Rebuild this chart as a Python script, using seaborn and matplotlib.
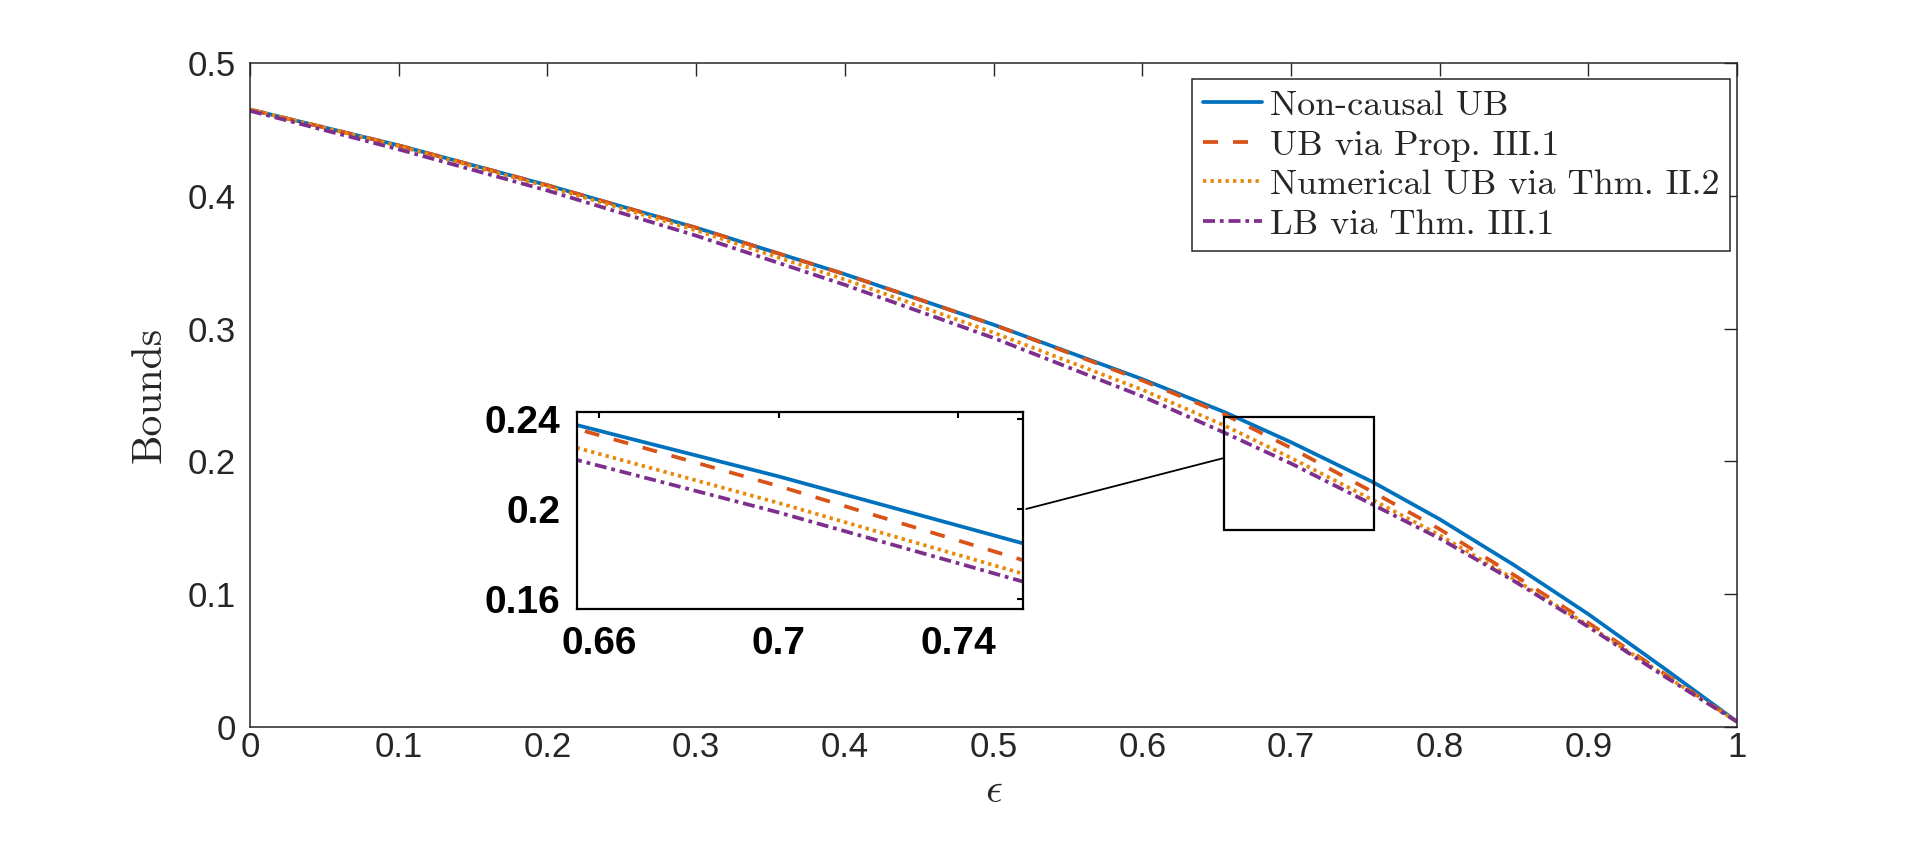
import matplotlib
matplotlib.use("Agg")
import pandas as pd
import seaborn as sns
import matplotlib.pyplot as plt
from matplotlib.patches import Rectangle

# values
eps = [0, 0.1, 0.2, 0.3, 0.4, 0.5, 0.6, 0.655, 0.7, 0.755, 0.8, 0.85, 0.9, 0.95, 1.0]
non_causal_ub = [0.465, 0.438, 0.408, 0.376, 0.341, 0.303, 0.262, 0.2373, 0.2145, 0.1845,
                 0.1565, 0.122, 0.085, 0.045, 0.004]
ub_prop = [0.465, 0.438, 0.408, 0.376, 0.341, 0.303, 0.261, 0.2356, 0.2102, 0.177,
           0.149, 0.1145, 0.0785, 0.041, 0.004]
num_ub_thm = [0.465, 0.4375, 0.407, 0.374, 0.337, 0.297, 0.254, 0.2272, 0.2027, 0.171,
              0.1445, 0.1115, 0.0765, 0.040, 0.004]
lb_thm = [0.464, 0.435, 0.404, 0.370, 0.333, 0.293, 0.249, 0.2218, 0.1985, 0.1675,
          0.142, 0.110, 0.0755, 0.039, 0.004]

names = ["Non-causal UB", "UB via Prop. III.1", "Numerical UB via Thm. II.2", "LB via Thm. III.1"]
colors = ["#0072BD", "#D95319", "#E8890C", "#7E2F8E"]
dash_styles = ["", (4.0, 4.0), (0.9, 1.1), (3.2, 1.3, 1.0, 1.3)]

x_ticks = [0, 0.1, 0.2, 0.3, 0.4, 0.5, 0.6, 0.7, 0.8, 0.9, 1]
x_tick_labels = ["0", "0.1", "0.2", "0.3", "0.4", "0.5", "0.6", "0.7", "0.8", "0.9", "1"]
y_ticks = [0, 0.1, 0.2, 0.3, 0.4, 0.5]
y_tick_labels = ["0", "0.1", "0.2", "0.3", "0.4", "0.5"]
in_x_ticks = [0.66, 0.7, 0.74]
in_x_tick_labels = ["0.66", "0.7", "0.74"]
in_y_ticks = [0.16, 0.2, 0.24]
in_y_tick_labels = ["0.16", "0.2", "0.24"]

df = pd.concat([
    pd.DataFrame({"eps": eps, "bound": vals, "series": name})
    for name, vals in zip(names, [non_causal_ub, ub_prop, num_ub_thm, lb_thm])
])

sns.set_theme(style="white")
plt.rcParams["font.family"] = ["Liberation Sans", "DejaVu Sans"]
plt.rcParams["mathtext.fontset"] = "cm"

fig = plt.figure(figsize=(19.2, 8.44), dpi=100)
ax = fig.add_axes([0.1302, 0.1386, 0.7745, 0.7867])

palette = dict(zip(names, colors))
dashes = dict(zip(names, dash_styles))


def draw(a):
    sns.lineplot(data=df, x="eps", y="bound", hue="series", style="series",
                 hue_order=names, style_order=names, palette=palette, dashes=dashes,
                 linewidth=2.7, legend=False, errorbar=None, ax=a)


draw(ax)
ax.set_xlim(0, 1)
ax.set_ylim(0, 0.5)
ax.set_xticks(x_ticks)
ax.set_xticklabels(x_tick_labels)
ax.set_yticks(y_ticks)
ax.set_yticklabels(y_tick_labels)
ax.tick_params(direction="in", length=9.5, width=1.0, top=True, right=True,
               labelsize=25, colors="#262626")
ax.tick_params(axis="x", pad=3)
ax.tick_params(axis="y", pad=10)
for s in ax.spines.values():
    s.set_color("#262626")
    s.set_linewidth(1.1)

ax.set_xlabel(r"$\epsilon$", fontsize=30, color="#262626")
ax.xaxis.set_label_coords(0.5, -0.066)
ax.set_ylabel("Bounds", fontsize=30, family="cmr10", color="#262626")
ax.yaxis.set_label_coords(-0.055, 0.5)

leg = ax.legend(handles=list(ax.lines[:4]), labels=names, loc="upper left",
                bbox_to_anchor=(0.6335, 0.976), borderaxespad=0, fancybox=False,
                framealpha=1, edgecolor="#262626", handlelength=1.65, handletextpad=0.2,
                borderpad=0.3, labelspacing=0.2, prop={"family": "cmr10", "size": 26})
leg.get_frame().set_linewidth(1.1)

# zoom box and connector
ax.add_patch(Rectangle((0.655, 0.1484), 0.1006, 0.0851, fill=False, ec="black", lw=1.6, zorder=5))
ax.plot([0.522, 0.655], [0.1642, 0.2026], color="black", lw=1.3, clip_on=False, zorder=5)

# inset
ax_in = fig.add_axes([0.3005, 0.2784, 0.2323, 0.2334])
draw(ax_in)
ax_in.set_xlim(0.655, 0.7545)
ax_in.set_ylim(0.1556, 0.2431)
ax_in.set_xticks(in_x_ticks)
ax_in.set_xticklabels(in_x_tick_labels)
ax_in.set_yticks(in_y_ticks)
ax_in.set_yticklabels(in_y_tick_labels)
ax_in.set_xlabel("")
ax_in.set_ylabel("")
ax_in.tick_params(direction="in", length=4, width=1.5, top=True, right=True,
                  labelsize=28, colors="black", pad=12)
for lbl in ax_in.get_xticklabels() + ax_in.get_yticklabels():
    lbl.set_fontweight("bold")
for s in ax_in.spines.values():
    s.set_color("black")
    s.set_linewidth(1.6)

fig.savefig("out.png", dpi=100)
